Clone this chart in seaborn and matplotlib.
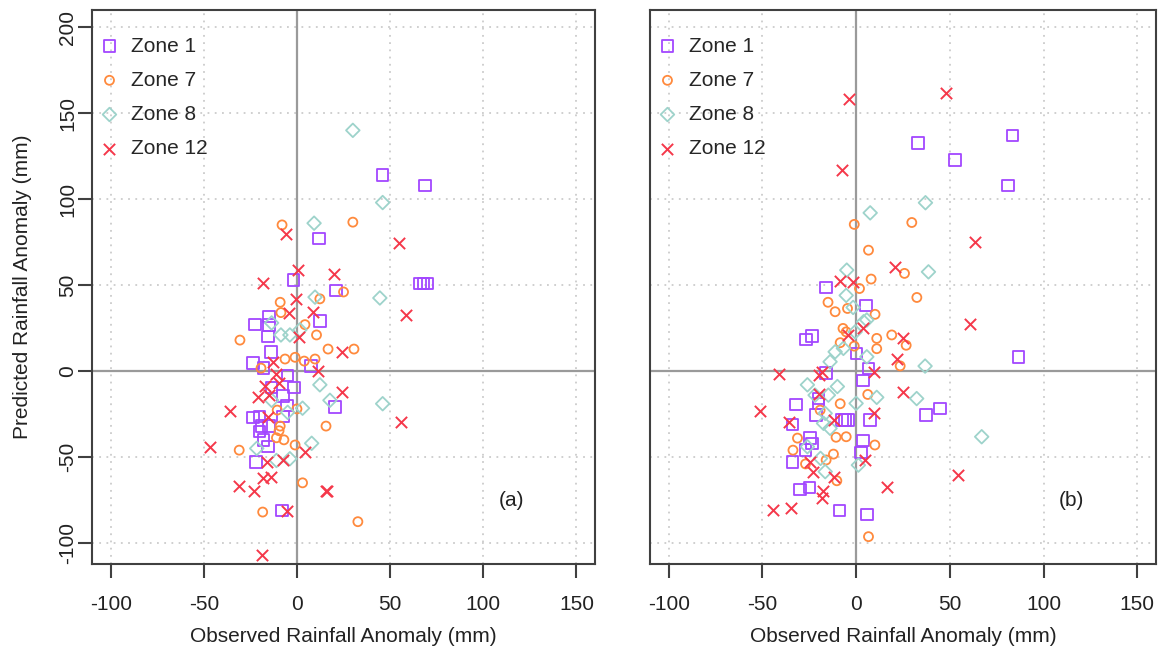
import numpy as np
import pandas as pd
import seaborn as sns
import matplotlib.pyplot as plt

sns.set_theme(style="white")
plt.rcParams['font.family'] = ['Liberation Sans', 'DejaVu Sans']
plt.rcParams['axes.unicode_minus'] = False

zones = ["Zone 1", "Zone 7", "Zone 8", "Zone 12"]
zone_colors = {"Zone 1": "#A347FF", "Zone 7": "#FF8A3D",
               "Zone 8": "#9ED3CB", "Zone 12": "#F5384A"}
zone_markers = {"Zone 1": "s", "Zone 7": "o", "Zone 8": "D", "Zone 12": "x"}
zone_sizes = {"Zone 1": 68, "Zone 7": 42, "Zone 8": 48, "Zone 12": 66}

x_ticks = [-100, -50, 0, 50, 100, 150]
y_ticks = [-100, -50, 0, 50, 100, 150, 200]

# ---- panel (a): observed vs predicted anomalies (mm) ----
a_z1_obs = [46, 68.7, 11.8, 66, 68, 70, 21, -2, 12.3, -15, -22.5, -15, -15.5, -14,
            -23.6, -18, 7.5, -5, -1.6, -7.5, -13.6, 20.4, -5.4, -23.6, -20, -7.5,
            -19, -15, -20, -18, -15.5, -22, -8]
a_z1_pred = [114, 108, 77, 51, 51, 51, 47, 53, 29, 31.6, 27, 26.7, 20, 11,
             4.6, 1.7, 2.9, -2.7, -9.7, -14.5, -9.5, -21, -20, -27, -26.5, -26.5,
             -32, -32, -35, -40, -44, -53, -81]

a_z7_obs = [-8, 30, 25, -9, 12.3, -8.6, -30.6, 4.3, 10.5, 16.7, 30.6, -6.4, -1, 3.9,
            9.7, -19.3, 0, 15.6, -9, -10.6, -9.6, -7, -11, -1, -31, 3, -18.4, 32.7]
a_z7_pred = [85, 86.6, 46, 40, 42, 34, 18, 27, 21, 12.8, 12.8, 7, 8, 5.8,
             7, 1.7, -22, -32, -32, -22.7, -34.7, -40, -38.8, -43, -46, -65, -82, -87.6]

a_z8_obs = [30, 46, 9.2, 44.5, 9.7, -8.6, -3.8, -13.6, 12.3, 17.7, 46, 3, 7.9, -21.6,
            -11, -3.8, -13.6, -5, 1.6]
a_z8_pred = [140, 98, 86, 42.5, 43, 21, 21, 28, -8, -17, -19, -21.6, -42, -45,
             -52, -51, -17, -24, 24]

a_z12_obs = [-6, 55, 0.5, 20, -18, -0.7, 58.8, 8.6, -4.3, 1, 24, 11.3, 24, 56, 4.3,
             16, -12.9, -11, -9.6, -17, -21, -15, -36, -15.5, -46.7, -16, -7.5,
             -18.4, -14, -31, -23, 15.6, -5.5, -19]
a_z12_pred = [79.7, 74.6, 59, 56.6, 51, 42, 32.6, 34.5, 34, 20, 11.2, 0.2, -12, -29.5, -47,
              -70, 5.4, -1.7, -7, -8.7, -15, -14, -23, -27, -44, -52.7, -52,
              -62.4, -61.8, -67, -70, -69.6, -81.4, -107]

# ---- panel (b) ----
b_z1_obs = [32.9, 83.5, 52.8, 81, -16, 5.3, -26.7, -23.6, 0.3, 6.6, -16, 3.6, -32,
            -20, -20, -21.5, -34, -7.5, -5.9, -4.3, 7.5, -24.5, -23.6, -27, -34,
            3.6, 2.5, -29.9, -24.9, -8.9, 5.7, 86.5, 37.3, 44.8]
b_z1_pred = [132.7, 137, 122.7, 108, 48.5, 38, 18.4, 20.3, 10.3, 1.6, -1, -5.6, -19.4,
             -16, -19, -25.6, -31, -28.5, -28.5, -28.5, -28.5, -39, -42, -46, -53,
             -40.5, -47.5, -68.8, -67.6, -81.2, -83.3, 8.3, -25.6, -21.7]

b_z7_obs = [-1, 29.7, 6.6, 8, 1.8, 25.8, 32.4, -15, -11.2, 10.1, -7, -8.5, 19, 26.7,
            11, 11, -4.6, -5.3, -1, 23.5, 6.2, -8.5, -19.2, -31.3, -10.7, -5.3,
            -33.7, -27, -12.1, -16, -10.3, 10, 6.6]
b_z7_pred = [85.3, 86.4, 70.3, 53.5, 48, 56.8, 42.8, 40, 34.5, 33, 24.8, 16.5, 21, 15,
             19, 13, 36.4, 22.8, 14.5, 3, -13.6, -19, -22.7, -39, -38.5, -38.2,
             -46, -54, -48.3, -51.7, -63.8, -43, -96.3]

b_z8_obs = [7.5, 37, 38.6, -5, -5.3, -1.6, 5.7, 4, -0.5, -11.2, -6.8, 5.7, -13.9,
            -21.9, -14.8, -10, 0, 11, 32.3, -16.5, -26, -17.4, -13.9, -26, -19,
            -16.5, 1.2, 36.8, 67]
b_z8_pred = [92, 97.9, 57.7, 58.7, 44, 37, 29.7, 28.7, 22.8, 11.2, 13.2, 8.3, 5.4,
             -14, -14, -9, -18.8, -15.3, -16, -24.6, -8, -30.4, -33.3, -44, -50.8,
             -58.5, -54.7, 2.9, -38.2]

b_z12_obs = [-3.7, 47.8, -7.6, 63.4, 20.8, -8.5, -1.8, 3.6, -4.1, 24.9, 21.7, 9.6,
             -20, -18, -41.4, 25.2, -19.6, -51.5, 9.6, -36, -12, -24.5, -23, 4.8,
             -12, -17.8, -18.3, 16.3, -44.4, -34.6, 60.8, 54.2]
b_z12_pred = [158, 162, 117, 74.8, 60.3, 52.5, 52, 24.8, 21, 19, 6.8, -0.4,
              -2.3, -0.5, -1.7, -12, -13.4, -23.3, -24.6, -29.5, -28.5, -52.7, -58.5, -52,
              -61.8, -69.6, -74, -67.6, -80.8, -79.8, 27.3, -60.5]

panels = {
    "(a)": {"Zone 1": (a_z1_obs, a_z1_pred), "Zone 7": (a_z7_obs, a_z7_pred),
            "Zone 8": (a_z8_obs, a_z8_pred), "Zone 12": (a_z12_obs, a_z12_pred)},
    "(b)": {"Zone 1": (b_z1_obs, b_z1_pred), "Zone 7": (b_z7_obs, b_z7_pred),
            "Zone 8": (b_z8_obs, b_z8_pred), "Zone 12": (b_z12_obs, b_z12_pred)},
}

rows = []
for panel, zd in panels.items():
    for zone, (xs, ys) in zd.items():
        for xv, yv in zip(xs, ys):
            rows.append({"panel": panel, "zone": zone, "obs": xv, "pred": yv})
df = pd.DataFrame(rows)

fig = plt.figure(figsize=(11.59, 6.52), dpi=100)
ax_a = fig.add_axes([0.0794, 0.135, 0.434, 0.8497])
ax_b = fig.add_axes([0.5608, 0.135, 0.4366, 0.8497])

frame_col = "#404040"
text_col = "#222222"
fs = 15

for ax, panel in [(ax_a, "(a)"), (ax_b, "(b)")]:
    ax.set_xlim(-110, 160)
    ax.set_ylim(-112.2, 210)
    ax.set_xticks(x_ticks)
    ax.set_yticks(y_ticks)
    ax.grid(True, color="#cccccc", linestyle=(0, (1, 3)), linewidth=1.3)
    ax.set_axisbelow(True)
    ax.axhline(0, color="#9a9a9a", lw=1.6, zorder=1.5)
    ax.axvline(0, color="#9a9a9a", lw=1.6, zorder=1.5)
    for zone in zones:
        sub = df[(df.panel == panel) & (df.zone == zone)]
        c = zone_colors[zone]
        if zone_markers[zone] == "x":
            sns.scatterplot(data=sub, x="obs", y="pred", ax=ax, marker="x",
                            color=c, s=zone_sizes[zone], linewidth=1.4,
                            label=zone, zorder=3)
        else:
            sns.scatterplot(data=sub, x="obs", y="pred", ax=ax,
                            marker=zone_markers[zone], color=c, facecolor="none",
                            edgecolor=c, s=zone_sizes[zone], linewidth=1.3,
                            label=zone, zorder=3)
    for sp in ax.spines.values():
        sp.set_color(frame_col)
        sp.set_linewidth(1.5)
    ax.tick_params(axis="both", direction="out", length=10, width=1.5,
                   color=frame_col, labelsize=fs, labelcolor=text_col)
    ax.tick_params(axis="x", pad=12, bottom=True)
    ax.set_xlabel("Observed Rainfall Anomaly (mm)", fontsize=fs, color=text_col,
                  labelpad=10)
    ax.text(115, -75, panel, fontsize=fs, color=text_col, ha="center", va="center")
    ax.legend(loc="upper left", bbox_to_anchor=(0.014, 0.952), borderaxespad=0,
              borderpad=0, frameon=False, fontsize=fs, handlelength=1.0,
              handletextpad=0.55, labelspacing=0.73, scatterpoints=1)

ax_a.tick_params(axis="y", left=True, labelrotation=90, pad=0.5)
for lab in ax_a.get_yticklabels():
    lab.set_va("center")
ax_a.set_ylabel("Predicted Rainfall Anomaly (mm)", fontsize=fs, color=text_col,
                labelpad=19)
ax_b.tick_params(axis="y", left=False, labelleft=False)
ax_b.set_ylabel("")

fig.savefig("out.png", dpi=100)
